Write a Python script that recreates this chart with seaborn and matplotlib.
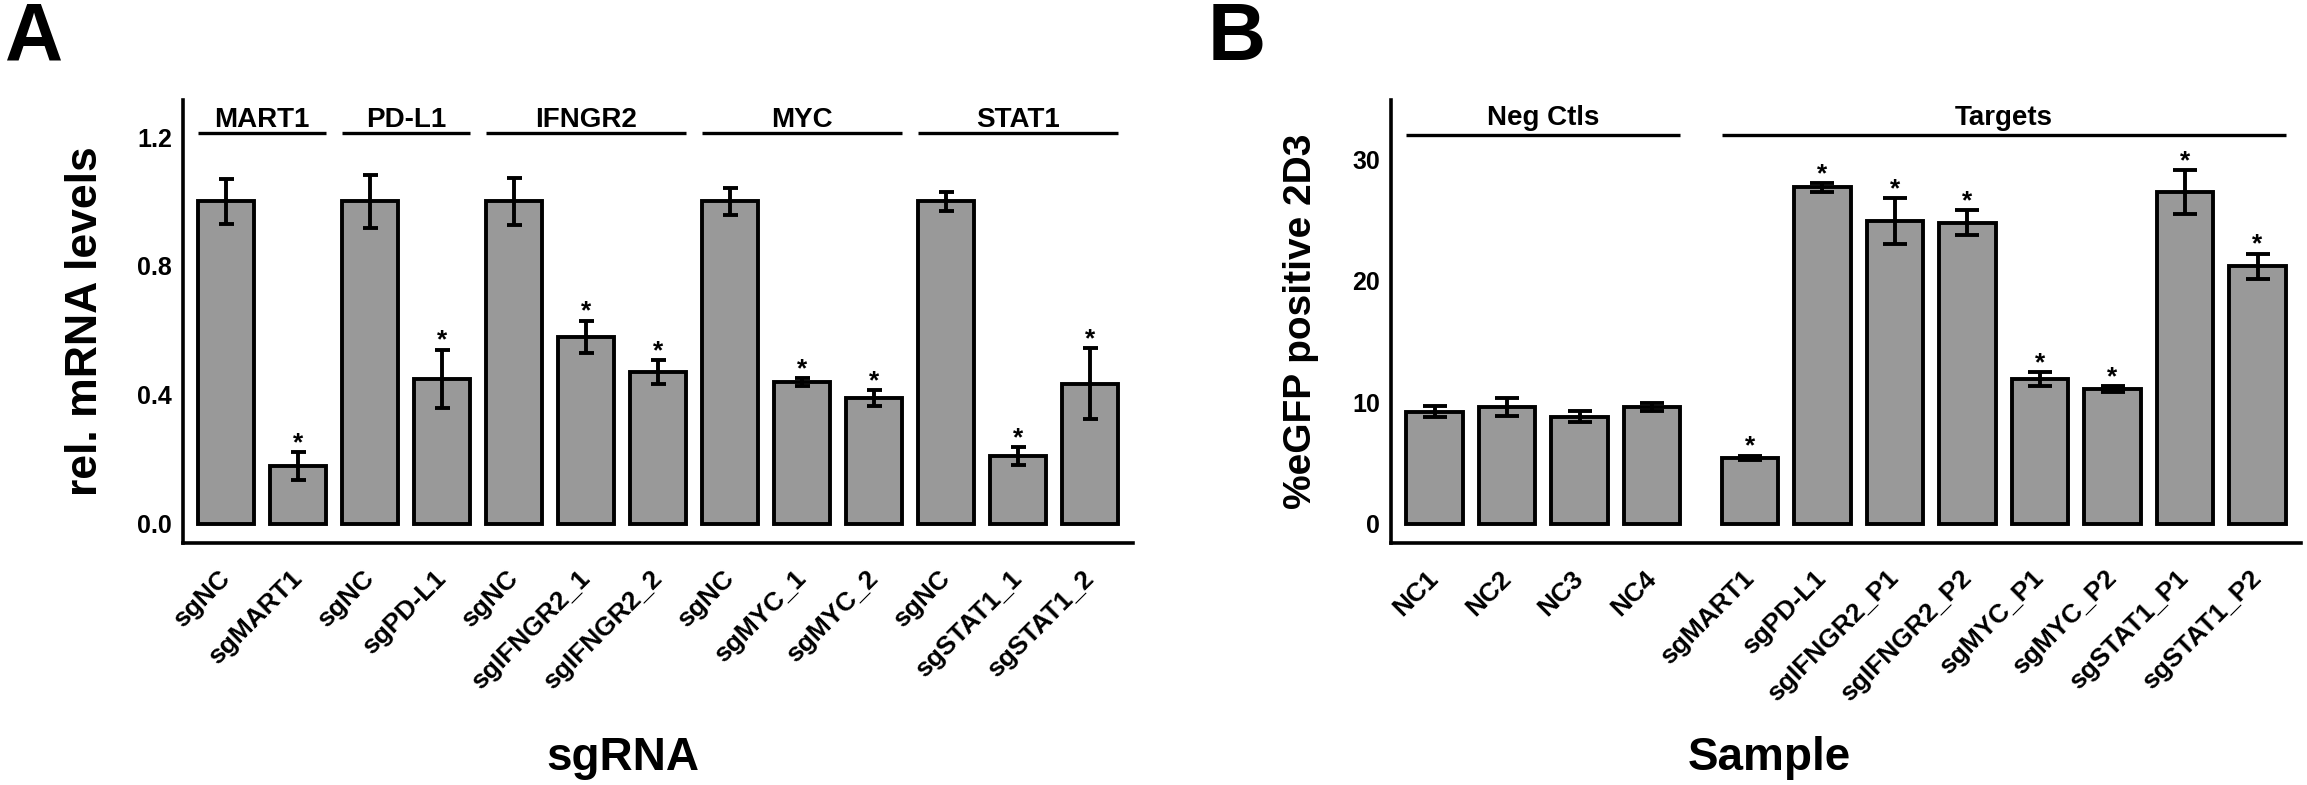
import pandas as pd
import seaborn as sns
import matplotlib.pyplot as plt

sns.set_style("white")
plt.rcParams['font.family'] = ['Liberation Sans', 'DejaVu Sans']
plt.rcParams['font.weight'] = 'bold'
plt.rcParams['axes.labelweight'] = 'bold'
plt.rcParams['text.color'] = 'black'
plt.rcParams['axes.labelcolor'] = 'black'

# panel A - qPCR, relative mRNA levels
a_labels = ["sgNC", "sgMART1", "sgNC", "sgPD-L1", "sgNC", "sgIFNGR2_1", "sgIFNGR2_2",
            "sgNC", "sgMYC_1", "sgMYC_2", "sgNC", "sgSTAT1_1", "sgSTAT1_2"]
a_mean = [1.00, 0.18, 1.00, 0.45, 1.00, 0.58, 0.47, 1.00, 0.44, 0.39, 1.00, 0.21, 0.435]
a_err = [0.07, 0.043, 0.083, 0.09, 0.074, 0.05, 0.038, 0.043, 0.012, 0.024, 0.03, 0.028, 0.11]
a_star = [0, 1, 0, 1, 0, 1, 1, 0, 1, 1, 0, 1, 1]
a_groups = ["MART1", "PD-L1", "IFNGR2", "MYC", "STAT1"]
a_sizes = [2, 2, 3, 3, 3]
a_yticks = [0.0, 0.4, 0.8, 1.2]

# panel B - %eGFP positive 2D3
b_labels = ["NC1", "NC2", "NC3", "NC4", "sgMART1", "sgPD-L1", "sgIFNGR2_P1", "sgIFNGR2_P2",
            "sgMYC_P1", "sgMYC_P2", "sgSTAT1_P1", "sgSTAT1_P2"]
b_mean = [9.2, 9.6, 8.8, 9.6, 5.4, 27.7, 24.9, 24.8, 11.9, 11.1, 27.3, 21.2]
b_err = [0.45, 0.75, 0.45, 0.35, 0.2, 0.35, 1.9, 1.05, 0.55, 0.25, 1.8, 1.05]
b_star = [0, 0, 0, 0, 1, 1, 1, 1, 1, 1, 1, 1]
b_groups = ["Neg Ctls", "Targets"]
b_sizes = [4, 8]
b_yticks = [0, 10, 20, 30]


def draw_panel(ax, labels, mean, err, star, groups, sizes, gap, cap,
               line_y, text_y, star_pad, ylim, yticks, fmt):
    # one slot per bar, plus an optional extra gap between groups
    pos = []
    k = 0
    for g, n in enumerate(sizes):
        for i in range(n):
            pos.append(k + g * gap)
            k += 1
    df = pd.DataFrame({"pos": pos, "val": mean})
    sns.barplot(data=df, x="pos", y="val", native_scale=True, color="#999999",
                saturation=1, width=0.78, edgecolor="black", linewidth=2.8,
                errorbar=None, ax=ax)
    ax.errorbar(pos, mean, yerr=err, fmt="none", ecolor="black",
                elinewidth=2.8, capsize=cap, capthick=2.8)
    for p, m, e, s in zip(pos, mean, err, star):
        if s:
            ax.text(p, m + e + star_pad, "*", ha="center", va="baseline", fontsize=19)

    # group lines on top
    k = 0
    for name, n in zip(groups, sizes):
        x0 = pos[k] - 0.39
        x1 = pos[k + n - 1] + 0.39
        ax.plot([x0, x1], [line_y, line_y], color="black", lw=2.4,
                solid_capstyle="butt", clip_on=False)
        ax.text((x0 + x1) / 2, text_y, name, ha="center", va="baseline", fontsize=20)
        k += n

    ax.set_xlim(-0.6, pos[-1] + 0.6)
    ax.set_ylim(*ylim)
    ax.set_yticks(yticks)
    ax.set_yticklabels([fmt.format(t) for t in yticks], fontsize=18)
    ax.set_xticks(pos)
    ax.set_xticklabels(labels, rotation=45, ha="right", va="center",
                       rotation_mode="anchor", fontsize=19)
    ax.set_xlabel("")
    for side in ["top", "right"]:
        ax.spines[side].set_visible(False)
    for side in ["left", "bottom"]:
        ax.spines[side].set_linewidth(2.6)
        ax.spines[side].set_color("black")
    ax.tick_params(axis="x", length=5.8, width=2.2, color="#333333",
                   labelcolor="black", pad=17)
    ax.tick_params(axis="y", length=5, width=2.2, color="#333333",
                   labelcolor="black", pad=3)


fig = plt.figure(figsize=(23.07, 7.85), dpi=100)
axA = fig.add_axes([0.0793, 0.3083, 0.4118, 0.5643])
axB = fig.add_axes([0.6030, 0.3083, 0.3944, 0.5643])

draw_panel(axA, a_labels, a_mean, a_err, a_star, a_groups, a_sizes, 0, 5.4,
           1.212, 1.231, 0.006, (-0.06, 1.315), a_yticks, "{:.1f}")
draw_panel(axB, b_labels, b_mean, b_err, b_star, b_groups, b_sizes, 0.35, 8.6,
           32.05, 32.8, 0.16, (-1.6, 34.9), b_yticks, "{:d}")

axA.set_ylabel("rel. mRNA levels", fontsize=32)
axA.yaxis.set_label_coords(-0.081, 0.5)
axB.set_ylabel("%eGFP positive 2D3", fontsize=28)
axB.yaxis.set_label_coords(-0.079, 0.5)

fig.text(0.270, 0.019, "sgRNA", fontsize=33, ha="center", va="baseline")
fig.text(0.767, 0.019, "Sample", fontsize=33, ha="center", va="baseline")

fig.text(0.002, 0.999, "A", fontsize=58, va="top")
fig.text(0.5236, 0.999, "B", fontsize=58, va="top")

fig.savefig("out.png", dpi=100)
